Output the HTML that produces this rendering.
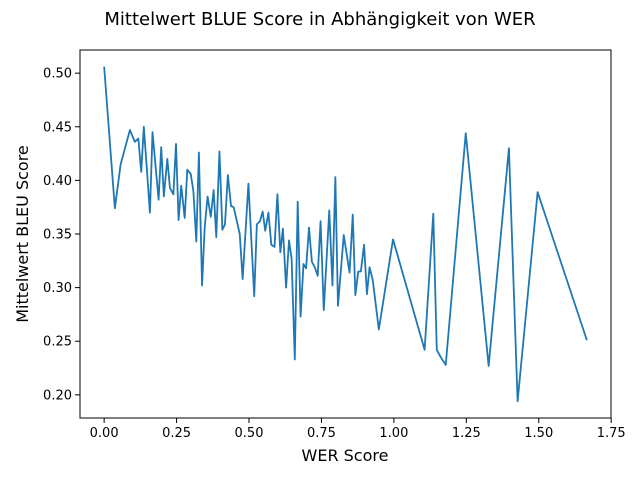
<!DOCTYPE html>
<html><head><meta charset="utf-8"><style>
body{margin:0;background:#fff}
svg{display:block;font-family:"DejaVu Sans","Liberation Sans",sans-serif}
</style></head><body>
<svg id="chart" width="640" height="480" viewBox="0 0 640 480">
<rect width="640" height="480" fill="#fff"/>
<text x="320" y="25" text-anchor="middle" font-size="18" fill="#000">Mittelwert BLUE Score in Abhängigkeit von WER</text>
<g id="plot"></g>
<text x="345" y="461" text-anchor="middle" font-size="16" fill="#000">WER Score</text>
<text transform="translate(28,234) rotate(-90)" text-anchor="middle" font-size="16" fill="#000">Mittelwert BLEU Score</text>
</svg>
<script>
const werValues = [0.000,0.037,0.057,0.089,0.106,0.118,0.128,0.137,0.158,0.167,0.188,0.197,0.206,0.218,0.227,0.239,0.248,0.257,0.266,0.278,0.287,0.299,0.308,0.318,0.327,0.338,0.347,0.357,0.368,0.378,0.387,0.398,0.408,0.417,0.427,0.438,0.447,0.468,0.478,0.498,0.518,0.527,0.538,0.547,0.556,0.567,0.577,0.588,0.598,0.608,0.617,0.628,0.638,0.647,0.658,0.668,0.678,0.688,0.697,0.707,0.717,0.727,0.737,0.747,0.758,0.777,0.788,0.798,0.807,0.827,0.847,0.858,0.867,0.877,0.886,0.897,0.907,0.916,0.927,0.948,0.997,1.106,1.136,1.148,1.162,1.179,1.248,1.327,1.397,1.427,1.496,1.666];
const bleuValues = [0.506,0.374,0.415,0.447,0.436,0.439,0.408,0.450,0.370,0.445,0.382,0.431,0.385,0.420,0.393,0.387,0.434,0.363,0.395,0.365,0.410,0.406,0.390,0.343,0.426,0.302,0.356,0.385,0.366,0.391,0.347,0.427,0.354,0.359,0.405,0.376,0.375,0.350,0.308,0.397,0.292,0.359,0.362,0.371,0.353,0.370,0.340,0.338,0.387,0.333,0.355,0.300,0.344,0.327,0.233,0.380,0.273,0.322,0.318,0.356,0.324,0.319,0.311,0.362,0.279,0.372,0.302,0.403,0.283,0.349,0.314,0.368,0.293,0.315,0.315,0.340,0.294,0.319,0.307,0.261,0.345,0.242,0.369,0.242,0.235,0.228,0.444,0.227,0.430,0.194,0.389,0.251];
const xTickLabels = ["0.00","0.25","0.50","0.75","1.00","1.25","1.50","1.75"];
const yTickLabels = ["0.20","0.25","0.30","0.35","0.40","0.45","0.50"];

const L=80,R=611,T=50,B=418,NS="http://www.w3.org/2000/svg";
const xmin0=Math.min(...werValues),xmax0=Math.max(...werValues);
const ymin0=Math.min(...bleuValues),ymax0=Math.max(...bleuValues);
const xm=(xmax0-xmin0)*0.05,ym=(ymax0-ymin0)*0.05;
const xlo=xmin0-xm,xhi=xmax0+xm,ylo=ymin0-ym,yhi=ymax0+ym;
const xScale=v=>L+(v-xlo)/(xhi-xlo)*(R-L);
const yScale=v=>B-(v-ylo)/(yhi-ylo)*(B-T);
const plot=document.getElementById('plot');
function mk(tag,attrs){const e=document.createElementNS(NS,tag);for(const k in attrs)e.setAttribute(k,attrs[k]);return e;}

const line=mk('polyline',{points:werValues.map((x,i)=>xScale(x).toFixed(2)+','+yScale(bleuValues[i]).toFixed(2)).join(' '),fill:'none',stroke:'#1f77b4','stroke-width':'1.8','stroke-linejoin':'round'});


plot.appendChild(line);

const frame=mk('rect',{x:L,y:T,width:R-L,height:B-T,fill:'none',stroke:'#000','stroke-width':'1'});


plot.appendChild(frame);

xTickLabels.forEach(s=>{
  const v=parseFloat(s),px=xScale(v);
  const t=mk('line',{x1:px,x2:px,y1:B,y2:B+5,stroke:'#000'});
  
  
  plot.appendChild(t);
  const lb=mk('text',{x:px,y:B+19,'text-anchor':'middle','font-size':'13',fill:'#000'});
  lb.textContent=s;
  
  
  plot.appendChild(lb);
});
yTickLabels.forEach(s=>{
  const v=parseFloat(s),py=yScale(v);
  const t=mk('line',{x1:L-5,x2:L,y1:py,y2:py,stroke:'#000'});
  
  
  plot.appendChild(t);
  const lb=mk('text',{x:L-8,y:py+4.5,'text-anchor':'end','font-size':'13',fill:'#000'});
  lb.textContent=s;
  
  
  plot.appendChild(lb);
});
</script>
</body></html>
